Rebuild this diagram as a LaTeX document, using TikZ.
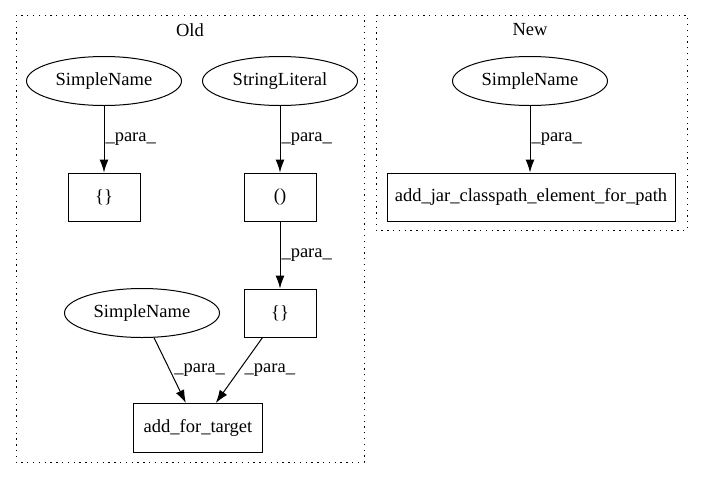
\documentclass[tikz,border=0pt]{standalone}
\usepackage{fontspec}
\setmainfont{Liberation Serif}
\usetikzlibrary{shapes.geometric,arrows.meta}
\tikzset{
  every node/.style={font=\fontsize{18.5}{20}\selectfont},
  astnode/.style={draw, ellipse, line width=1pt, minimum width=155pt, minimum height=49pt, inner sep=0pt},
  opbox/.style={draw, rectangle, line width=1pt, minimum width=72pt, minimum height=48pt, inner sep=0pt},
  cluster/.style={line width=1pt, dash pattern=on 1.3pt off 4.5pt},
  edge/.style={line width=1pt, -{Latex[length=13pt,width=9pt]}},
  lbl/.style={right, inner sep=1pt}
}
\begin{document}
\begin{tikzpicture}[x=1pt,y=-1pt]
            \useasboundingbox (0,0) rectangle (701,480);
            % clusters
            \draw[cluster] (16,15) rectangle (364,462);
            \node (old) at (190,30) {Old};
            \draw[cluster] (376,15) rectangle (687,230);
            \node (new) at (530,30) {New};
            % old
            \node[astnode] (sn1) at (104,81) {SimpleName};
            \node[astnode] (strlit) at (280,81) {StringLiteral};
            \node[opbox] (brace1) at (104,197) {\{\}};
            \node[opbox] (paren) at (280,197) {()};
            \node[opbox] (brace2) at (280,313) {\{\}};
            \node[astnode] (sn2) at (142,313) {SimpleName};
            \node[opbox, minimum width=129pt, minimum height=49pt] (addfor) at (198,428) {add\_for\_target};
            \draw[edge] (sn1) -- (brace1) node[lbl, midway] {\_para\_};
            \draw[edge] (strlit) -- (paren) node[lbl, midway] {\_para\_};
            \draw[edge] (paren) -- (brace2) node[lbl, midway] {\_para\_};
            \draw[edge] (sn2) -- (addfor) node[lbl, pos=0.5, inner sep=4pt] {\_para\_};
            \draw[edge] (brace2) -- (addfor) node[lbl, pos=0.5, inner sep=5pt] {\_para\_};
            % new
            \node[astnode] (snnew) at (530,81) {SimpleName};
            \node[opbox, minimum width=288pt] (addjar) at (531,197) {add\_jar\_classpath\_element\_for\_path};
            \draw[edge] (snnew) -- (snnew |- addjar.north) node[lbl, midway] {\_para\_};
\end{tikzpicture}
\end{document}
